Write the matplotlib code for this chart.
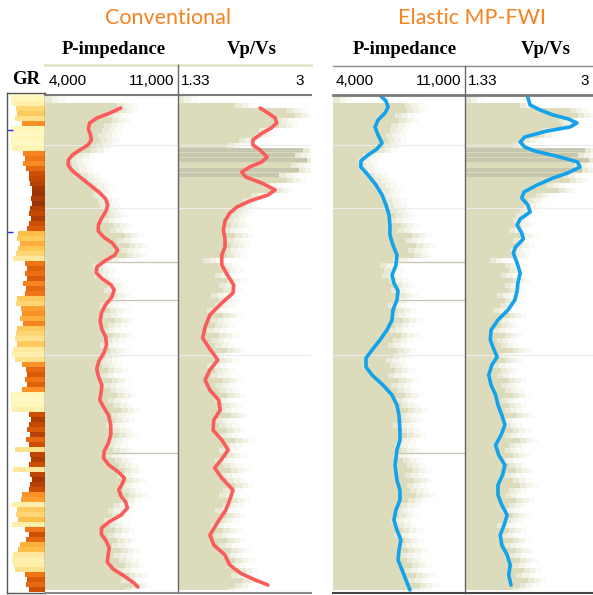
import numpy as np
import matplotlib
matplotlib.use("Agg")
import matplotlib.pyplot as plt
from matplotlib.lines import Line2D
from matplotlib import colors

W, H = 593, 595

# well logs, sampled every 5 depth units from the top of the interval
log_depth = np.arange(0, 500, 5)

gr_log = [10, 15, 20, 35, 40, 30, 60, 15, 12, 15, 12, 18, 65, 70, 62, 75, 85, 88, 92, 98,
          100, 95, 100, 92, 88, 95, 85, 80, 45, 40, 50, 42, 35, 25, 70, 78, 72, 80, 65, 75,
          70, 40, 35, 55, 60, 50, 65, 40, 35, 30, 40, 25, 20, 30, 60, 75, 80, 70, 78, 60,
          15, 12, 15, 20, 85, 95, 88, 80, 92, 75, 85, 30, 90, 95, 85, 25, 90, 98, 92, 85,
          60, 55, 20, 40, 35, 45, 20, 70, 85, 75, 50, 45, 25, 20, 22, 30, 70, 80, 75, 85]

ip_log = [4000, 4000, 7800, 7900, 7300, 7500, 7100, 7000, 6800, 6900, 6700, 6400, 5600, 5300,
          5400, 5500, 5900, 6200, 6400, 6600, 6500, 6800, 6900, 7100, 7300, 7000, 7600, 7400,
          8200, 7800, 8400, 8000, 8300, 7200, 6500, 6700, 6600, 7000, 7300, 7100, 7500, 7200,
          6900, 7400, 7100, 7700, 7300, 7000, 7600, 7200, 6900, 7400, 7200, 6800, 7000, 7300,
          6900, 7500, 7100, 7400, 7800, 7300, 7600, 8000, 7500, 7700, 7200, 7600, 7900, 7400,
          7300, 7600, 7200, 7700, 7900, 8200, 7800, 8300, 7900, 8100, 8400, 8000, 7600, 7300,
          7500, 7100, 7400, 7700, 7300, 7800, 7500, 8000, 7600, 7900, 8200, 7800, 8400, 8000,
          8600, 8200]

vpvs_log = [1.33, 1.33, 2.05, 2.70, 2.80, 2.55, 2.60, 2.35, 2.30, 2.10, 1.95, 2.90, 2.80, 2.95,
            2.75, 2.85, 2.60, 2.70, 2.40, 2.55, 2.25, 2.15, 2.10, 2.05, 2.00, 1.95, 2.00, 1.90,
            2.05, 1.95, 2.00, 1.92, 1.95, 1.65, 1.85, 1.90, 1.80, 1.95, 1.85, 1.90, 1.75, 1.85,
            1.80, 1.70, 1.90, 1.75, 1.80, 1.70, 1.85, 1.75, 1.80, 1.95, 1.75, 1.85, 1.70, 1.80,
            1.75, 1.90, 1.80, 1.85, 1.95, 1.80, 1.90, 1.85, 2.00, 1.80, 1.85, 1.95, 1.85, 2.05,
            1.90, 1.85, 1.95, 1.80, 1.90, 2.00, 1.85, 1.95, 2.05, 1.90, 1.85, 2.00, 1.90, 1.80,
            1.95, 1.85, 1.75, 1.90, 1.80, 1.95, 1.85, 2.00, 1.90, 2.05, 1.95, 2.10, 2.00, 2.15,
            2.05, 1.95]

# shaly streaks shown darker in the Vp/Vs log (depths on the log grid)
vpvs_dark_depth = [55, 60, 65, 75, 80]

# well tops drawn across the tracks
tops_light = [50, 113, 260]
tops_dark = [167, 205, 358]
gr_markers = [37, 138]

# inverted curves
conv_ip_depth = [13, 18, 23, 28, 34, 40, 45, 50, 55, 60, 65, 70, 75, 82, 90, 98, 104, 110, 116,
                 124, 130, 136, 142, 148, 155, 160, 166, 172, 178, 184, 190, 195, 202, 210, 218,
                 226, 234, 242, 250, 258, 266, 274, 282, 290, 298, 305, 312, 320, 330, 340, 348,
                 356, 363, 370, 377, 383, 389, 395, 401, 407, 413, 420, 427, 433, 439, 446, 453,
                 460, 467, 474, 481, 488, 492]
conv_ip = [7980, 7420, 6740, 6350, 6280, 6400, 6440, 6260, 5840, 5440, 5230, 5220, 5400, 5840,
           6370, 6890, 7200, 7300, 7210, 6960, 6810, 6800, 7080, 7540, 7820, 7680, 7140, 6730,
           6700, 7030, 7480, 7640, 7520, 7180, 6970, 6900, 6990, 7190, 7240, 7100, 6840, 6720,
           6820, 6990, 6950, 6880, 7080, 7340, 7460, 7460, 7340, 7120, 7080, 7360, 7860, 8180,
           8060, 7880, 8000, 8240, 8340, 8000, 7360, 6980, 6960, 7220, 7380, 7320, 7280, 7580,
           8160, 8680, 8890]

conv_vpvs_depth = [13, 18, 23, 28, 33, 39, 45, 50, 55, 62, 67, 72, 77, 82, 88, 95, 100, 106, 112,
                   118, 126, 135, 144, 152, 160, 170, 180, 190, 198, 208, 220, 232, 243, 254, 265,
                   275, 285, 295, 305, 315, 325, 335, 345, 355, 364, 373, 383, 395, 405, 415, 427,
                   440, 450, 460, 470, 478, 485, 490]
conv_vpvs = [2.36, 2.46, 2.55, 2.57, 2.50, 2.37, 2.27, 2.27, 2.36, 2.45, 2.38, 2.23, 2.13, 2.18,
             2.38, 2.55, 2.46, 2.23, 2.07, 1.98, 1.92, 1.90, 1.92, 1.92, 1.88, 1.88, 1.95, 2.03,
             2.02, 1.88, 1.73, 1.67, 1.64, 1.73, 1.83, 1.73, 1.67, 1.73, 1.84, 1.86, 1.78, 1.77,
             1.88, 1.96, 1.88, 1.79, 1.88, 2.02, 1.98, 1.93, 1.83, 1.73, 1.78, 1.92, 1.98, 2.11,
             2.30, 2.46]

fwi_ip_depth = [0, 6, 12, 18, 25, 32, 40, 48, 54, 60, 66, 72, 80, 90, 100, 110, 120, 130, 140,
                150, 160, 170, 180, 188, 196, 205, 215, 225, 235, 245, 255, 263, 272, 280, 290,
                300, 310, 320, 335, 345, 355, 370, 385, 395, 405, 415, 425, 435, 445, 455, 465,
                475, 485, 495]
fwi_ip = [6490, 6810, 6920, 6760, 6390, 6230, 6390, 6600, 6330, 5860, 5480, 5480, 5860, 6280,
          6600, 6810, 6970, 7020, 7020, 7180, 7390, 7340, 7130, 7230, 7450, 7390, 7180, 7130,
          6860, 6490, 6070, 5750, 5750, 6070, 6650, 7130, 7390, 7500, 7550, 7550, 7390, 7290,
          7390, 7550, 7550, 7340, 7230, 7390, 7600, 7500, 7450, 7660, 7870, 8080]

fwi_vpvs_depth = [0, 10, 15, 20, 24, 28, 32, 36, 42, 47, 52, 56, 62, 67, 72, 78, 83, 90, 97, 103,
                  110, 117, 124, 130, 138, 144, 152, 158, 168, 178, 188, 196, 205, 215, 225, 235,
                  245, 255, 262, 270, 280, 290, 300, 310, 320, 330, 340, 350, 360, 370, 380, 390,
                  400, 410, 420, 430, 440, 450, 460, 470, 480, 490]
fwi_vpvs = [2.14, 2.18, 2.31, 2.48, 2.68, 2.79, 2.70, 2.40, 2.11, 2.05, 2.11, 2.24, 2.57, 2.80,
            2.83, 2.67, 2.48, 2.27, 2.10, 2.07, 2.15, 2.18, 2.05, 2.01, 2.07, 2.09, 1.99, 1.96,
            2.01, 2.05, 2.02, 2.01, 1.98, 1.89, 1.76, 1.67, 1.66, 1.71, 1.75, 1.68, 1.64, 1.67,
            1.73, 1.76, 1.81, 1.85, 1.80, 1.73, 1.77, 1.85, 1.82, 1.76, 1.76, 1.81, 1.88, 1.84,
            1.79, 1.81, 1.88, 1.92, 1.90, 1.93]

ip_range = (4000, 11000)
vpvs_range = (1.33, 3.0)
depth_max = 498

khaki = "#dcdcbc"
khaki_dark = "#c4c4ae"
red = "#fa5c5c"
blue = "#14a2ea"
orange = "#f7821e"

fig = plt.figure(figsize=(W / 100, H / 100), dpi=100)


def px_axes(x0, y0, x1, y1):
    ax = fig.add_axes([x0 / W, 1 - y1 / H, (x1 - x0) / W, (y1 - y0) / H])
    ax.set_ylim(depth_max, 0)
    ax.set_xticks([])
    ax.set_yticks([])
    for s in ax.spines.values():
        s.set_visible(False)
    return ax


def fig_line(x0, x1, y0, y1, color, lw):
    fig.add_artist(Line2D([x0 / W, x1 / W], [1 - y0 / H, 1 - y1 / H],
                          color=color, lw=lw, transform=fig.transFigure))


def fig_text(x, y, s, **kw):
    fig.text(x / W, 1 - y / H, s, va="center", **kw)


def log_track(ax, values, xr, fade, curve_d, curve_v, color, dark=()):
    ax.set_xlim(*xr)
    v = np.array(values)
    # soft edge: progressively fainter fill beyond the log value
    for k, a in zip((3, 2, 1), (0.12, 0.22, 0.4)):
        ax.fill_betweenx(log_depth, xr[0], np.minimum(v + k * fade, xr[1]), step="mid",
                         color=khaki, alpha=a, lw=0)
    ax.fill_betweenx(log_depth, xr[0], v, step="mid", color=khaki, lw=0)
    for d in dark:
        i = int(np.searchsorted(log_depth, d))
        ax.barh(d, v[i] - xr[0], left=xr[0], height=4, color=khaki_dark, alpha=0.85, lw=0)
    for d in tops_light:
        ax.axhline(d, color="#ececec", lw=0.8)
    ax.plot(curve_v, curve_d, color=color, lw=2.6, solid_capstyle="round",
            solid_joinstyle="round")


# GR track
ax_gr = px_axes(7, 93, 45, 593)
ax_gr.set_xlim(0, 150)
norm = colors.Normalize(0, 115)
cmap = matplotlib.colormaps["YlOrBr"]
ax_gr.barh(log_depth, [150 - g for g in gr_log], left=gr_log, height=5,
           color=cmap(norm(np.array(gr_log))), lw=0)
for d in gr_markers:
    ax_gr.hlines(d, 0, 22, color="#2030ff", lw=1)
for s in ax_gr.spines.values():
    s.set_visible(True)
    s.set_color("#555555")
    s.set_linewidth(1)

tracks = [
    (45, 178, ip_log, ip_range, 350, conv_ip_depth, conv_ip, red, True),
    (178, 311, vpvs_log, vpvs_range, 0.08, conv_vpvs_depth, conv_vpvs, red, False),
    (333, 465, ip_log, ip_range, 350, fwi_ip_depth, fwi_ip, blue, True),
    (465, 593, vpvs_log, vpvs_range, 0.08, fwi_vpvs_depth, fwi_vpvs, blue, False),
]
for x0, x1, lg, xr, fade, cd, cv, col, is_ip in tracks:
    ax = px_axes(x0, 95, x1, 593)
    if is_ip:
        for d in tops_dark:
            ax.axhline(d, color="#c4c4b4", lw=0.9, zorder=0.5)
    log_track(ax, lg, xr, fade, cd, cv, col, () if is_ip else vpvs_dark_depth)

# header frames
fig_line(45, 311, 65, 65, "#e4e4cc", 2)
fig_line(45, 311, 95, 95, "#7a7a7a", 1.5)
fig_line(333, 593, 66, 66, "#8a8a8a", 1)
fig_line(333, 593, 95, 95, "#7a7a7a", 2)
fig_line(178, 178, 65, 593, "#666666", 1)
fig_line(465, 465, 66, 593, "#666666", 1)
fig_line(45, 311, 593, 593, "#8a8a8a", 1.5)
fig_line(333, 593, 593, 593, "#444444", 1.5)

# titles and track names
fig_text(168, 18, "Conventional", ha="center", color=orange, family="Lato", fontsize=15.5)
fig_text(472, 18, "Elastic MP-FWI", ha="center", color=orange, family="Lato", fontsize=15.5)
bold = dict(ha="center", family="Liberation Serif", fontweight="bold", fontsize=13.5)
fig_text(114, 50, "P-impedance", **bold)
fig_text(252, 50, "Vp/Vs", **bold)
fig_text(405, 50, "P-impedance", **bold)
fig_text(546, 50, "Vp/Vs", **bold)
fig_text(26, 80, "GR", **bold)

tick = dict(family="Liberation Sans", fontsize=11)
fig_text(49, 81, f"{ip_range[0]:,}", ha="left", **tick)
fig_text(174, 81, f"{ip_range[1]:,}", ha="right", **tick)
fig_text(181, 81, f"{vpvs_range[0]:g}", ha="left", **tick)
fig_text(304, 81, f"{vpvs_range[1]:g}", ha="right", **tick)
fig_text(336, 81, f"{ip_range[0]:,}", ha="left", **tick)
fig_text(461, 81, f"{ip_range[1]:,}", ha="right", **tick)
fig_text(468, 81, f"{vpvs_range[0]:g}", ha="left", **tick)
fig_text(589, 81, f"{vpvs_range[1]:g}", ha="right", **tick)

fig.savefig("out.png", dpi=100)
